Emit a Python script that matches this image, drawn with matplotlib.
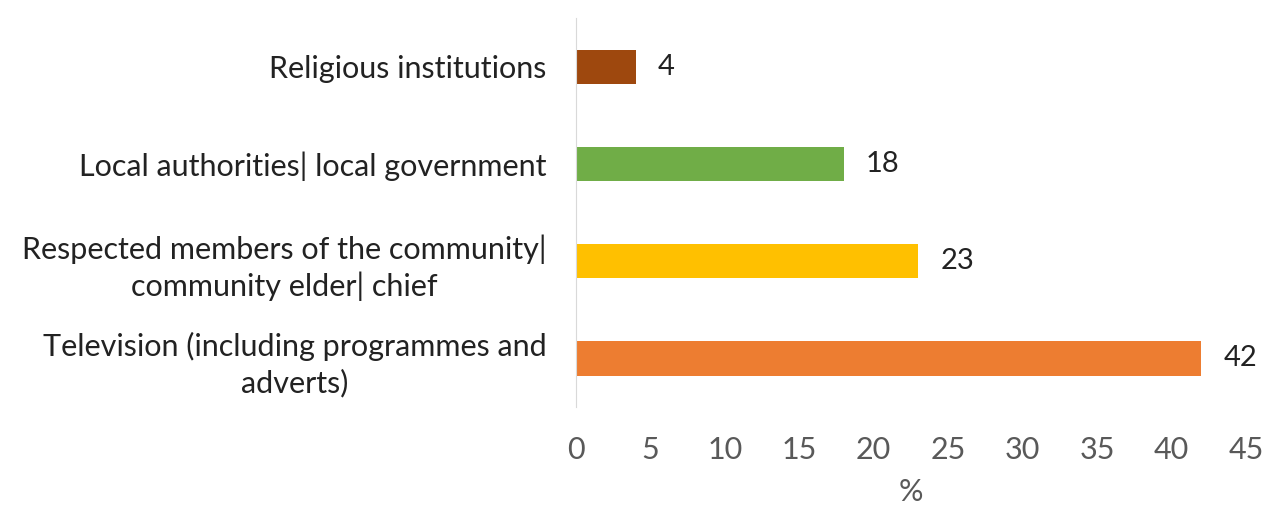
import matplotlib.pyplot as plt

categories = ["Religious institutions",
              "Local authorities| local government",
              "Respected members of the community|\ncommunity elder| chief",
              "Television (including programmes and\nadverts)"]
values = [4, 18, 23, 42]
colors = ["#9E480E", "#70AD47", "#FFC000", "#ED7D31"]
xticks = [0, 5, 10, 15, 20, 25, 30, 35, 40, 45]

plt.rcParams['font.family'] = ['Lato', 'DejaVu Sans']

fig = plt.figure(figsize=(12.64, 5.16), dpi=100)
ax = fig.add_axes([0.4557, 0.211, 0.53, 0.754])

pos = list(range(len(categories)))
ax.barh(pos, values, height=0.35, color=colors)
ax.set_ylim(len(categories) - 0.5, -0.5)
ax.set_xlim(0, 45)

for p, v in zip(pos, values):
    ax.annotate(str(v), (v, p), xytext=(22, 0), textcoords='offset pixels',
                va='center', ha='left', fontsize=21, color='#222222')

ax.set_yticks(pos)
ax.set_yticklabels(categories, fontsize=22, color='#222222', ha='right',
                   multialignment='center', linespacing=1.3)
ax.set_xticks(xticks)
ax.set_xticklabels([str(t) for t in xticks], fontsize=22, color='#595959')
ax.tick_params(axis='both', length=0)
ax.tick_params(axis='y', pad=21)
ax.tick_params(axis='x', pad=21)

for s in ['top', 'right', 'bottom']:
    ax.spines[s].set_visible(False)
ax.spines['left'].set_color('#D9D9D9')

ax.set_xlabel('%', fontsize=22, color='#595959', labelpad=10)

fig.savefig('out.png', dpi=100)
